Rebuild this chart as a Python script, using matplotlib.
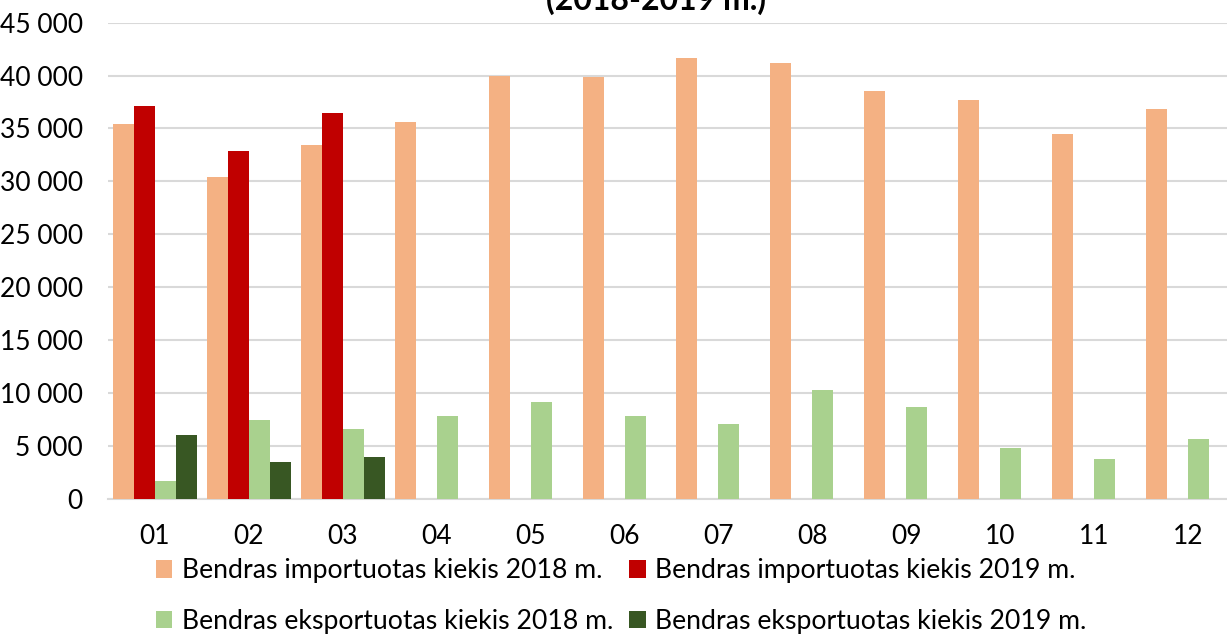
import numpy as np
import matplotlib
matplotlib.use('Agg')
from matplotlib import pyplot as plt
from matplotlib.ticker import FuncFormatter

plt.rcParams['font.family'] = ['Lato', 'DejaVu Sans']

months = ['01', '02', '03', '04', '05', '06', '07', '08', '09', '10', '11', '12']
import_2018 = [35400, 30400, 33430, 35630, 40000, 39900, 41640, 41230, 38580, 37680, 34500, 36830]
import_2019 = [37100, 32900, 36480, np.nan, np.nan, np.nan, np.nan, np.nan, np.nan, np.nan, np.nan, np.nan]
export_2018 = [1640, 7450, 6570, 7800, 9170, 7800, 7080, 10280, 8660, 4800, 3760, 5600]
export_2019 = [5980, 3460, 3900, np.nan, np.nan, np.nan, np.nan, np.nan, np.nan, np.nan, np.nan, np.nan]

labels = ['Bendras importuotas kiekis 2018 m.', 'Bendras importuotas kiekis 2019 m.',
          'Bendras eksportuotas kiekis 2018 m.', 'Bendras eksportuotas kiekis 2019 m.']
colors = ['#F4B183', '#C00000', '#A9D18E', '#385723']

fig = plt.figure(figsize=(12.27, 6.36), dpi=100)
ax = fig.add_axes([108/1227, 137.3/636, (1235-108)/1227, 476/636])

x = np.arange(len(months))
w = 0.2236
bars = []
for k, (vals, lab, col) in enumerate(zip([import_2018, import_2019, export_2018, export_2019], labels, colors)):
    b = ax.bar(x + (k - 1.5) * w, vals, w, color=col, label=lab, zorder=3)
    bars.append(b)

ax.set_xlim(-0.5, 11.5)
ax.set_ylim(0, 45000)
ax.set_yticks(np.arange(0, 45001, 5000))
ax.yaxis.set_major_formatter(FuncFormatter(lambda v, p: '{:,}'.format(int(v)).replace(',', ' ')))
ax.set_xticks(x)
ax.set_xticklabels(months)
ax.grid(axis='y', color='#D9D9D9', linewidth=1.5, zorder=0)
for s in ['top', 'right', 'left']:
    ax.spines[s].set_visible(False)
ax.spines['bottom'].set_color('#D9D9D9')
ax.spines['bottom'].set_linewidth(1.5)
ax.tick_params(axis='both', length=0, labelsize=19, colors='black')
ax.tick_params(axis='y', pad=18)
ax.tick_params(axis='x', pad=18)

# title is cut at the top edge, as in the source image
fig.text(656/1227, 1 - 10/636, '(2018-2019 m.)', ha='center', va='baseline',
         fontsize=23, fontweight='bold')

order = [0, 2, 1, 3]
fig.legend([bars[i] for i in order], [labels[i] for i in order], ncol=2,
           loc='center', bbox_to_anchor=(621/1227, 1 - 596/636), frameon=False,
           fontsize=19.2, handlelength=0.62, handleheight=0.62, handletextpad=0.35,
           columnspacing=0.6, labelspacing=0.95, borderpad=0)

fig.savefig('out.png', dpi=100)
